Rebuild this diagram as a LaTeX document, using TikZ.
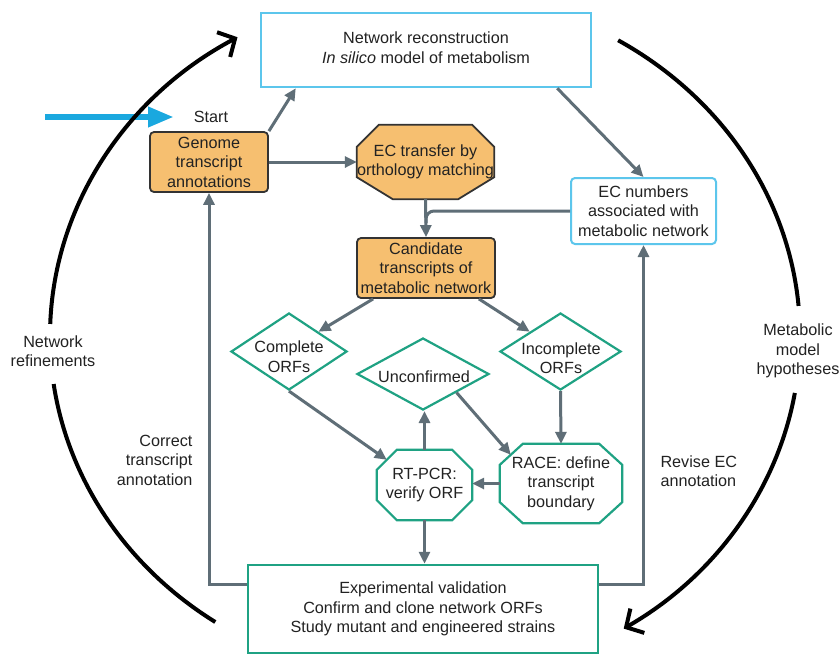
\documentclass[tikz,border=0pt]{standalone}
\usepackage{fontspec}
\setmainfont{Liberation Sans}
\usetikzlibrary{arrows.meta,calc,shapes.geometric,backgrounds}
\definecolor{cyanbox}{HTML}{5CC6EC}
\definecolor{startblue}{HTML}{1AA8DF}
\definecolor{orangefill}{HTML}{F6BF70}
\definecolor{darkborder}{HTML}{333333}
\definecolor{greenbox}{HTML}{1FA283}
\definecolor{conngray}{HTML}{5F6E77}
\definecolor{txt}{HTML}{222222}
% octagon drawn around a (rectangular, invisible) node
\newcommand\octaround[5]{%
  \path[#5] ($(#1.north west)+(#2,0)$) -- ($(#1.north east)+(-#2,0)$)
    -- ($(#1.north east)+(0,-#4)$) -- ($(#1.south east)+(0,#4)$)
    -- ($(#1.south east)+(-#3,0)$) -- ($(#1.south west)+(#3,0)$)
    -- ($(#1.south west)+(0,#4)$) -- ($(#1.north west)+(0,-#4)$) -- cycle;}
\tikzset{
  every node/.style={font=\fontsize{16.2}{19.5}\selectfont, text=txt, align=center},
  cyanrect/.style={draw=cyanbox, line width=2.5pt, fill=white, inner sep=0pt},
  orangebox/.style={draw=darkborder, line width=1.8pt, fill=orangefill, rounded corners=4pt, inner sep=0pt},
  greendiam/.style={shape=diamond, draw=greenbox, line width=2.2pt, fill=white, inner sep=0pt},
  octnode/.style={draw=none, inner sep=0pt},
  connector/.style={draw=conngray, line width=3pt, -{Triangle[length=12pt,width=11pt]}},
  plainconn/.style={draw=conngray, line width=3pt},
  bigarc/.style={draw=black, line width=4pt},
  bigarrow/.style={draw=black, line width=4pt, -{Straight Barb[length=13pt,width=28pt]}},
}
\begin{document}
\begin{tikzpicture}[x=1pt,y=1pt]
\useasboundingbox (0,0) rectangle (840,-654);

% ---------- nodes ----------
\node[cyanrect, minimum width=330pt, minimum height=74pt] (top) at (426,-50) {};
\node (toptext) at (426,-47.5) {Network reconstruction\\ \textit{In silico} model of metabolism};
\node (start) at (211,-117) {Start};
\node[orangebox, minimum width=118pt, minimum height=60pt] (genome) at (209,-162)
  {Genome\\transcript\\annotations};
\node[octnode, minimum width=137pt, minimum height=74pt] (ectr) at (425.5,-162)
  {EC transfer by\\orthology matching};
\node[cyanrect, rounded corners=4pt, line width=2pt, minimum width=145pt, minimum height=66pt] (ecnum) at (643.5,-211)
  {EC numbers\\associated with\\metabolic network};
\node[orangebox, minimum width=138pt, minimum height=60pt] (cand) at (426,-268)
  {Candidate\\transcripts of\\metabolic network};
\node[greendiam, minimum width=116pt, minimum height=77pt] (comp) at (289,-351.5) {};
\node (comptext) at (289,-356.5) {Complete\\ORFs};
\node[greendiam, minimum width=121pt, minimum height=77pt] (incomp) at (560.5,-351.5) {};
\node (incomptext) at (561,-358) {Incomplete\\ORFs};
\node[greendiam, minimum width=132pt, minimum height=72pt] (unconf) at (423,-374) {};
\node (unconftext) at (424,-377) {Unconfirmed};
\node[octnode, minimum width=95pt, minimum height=70pt] (rt) at (424.5,-485)
  {RT-PCR:\\verify ORF};
\node[octnode, minimum width=122pt, minimum height=79pt] (race) at (561,-483.5)
  {RACE: define\\transcript\\boundary};
\node[draw=greenbox, line width=2.5pt, fill=white, minimum width=350pt, minimum height=88pt, inner sep=0pt] (exp) at (423,-609)
  {Experimental validation\\Confirm and clone network ORFs\\Study mutant and engineered strains};

\node[anchor=east, align=right] (corr) at (196,-460) {Correct\\transcript\\annotation};
\node[anchor=west, align=left] (revise) at (657,-471) {Revise EC\\annotation};
\node (netref) at (53,-351) {Network\\refinements};
\node (metab) at (798,-351) {Metabolic\\model\\hypotheses};

% ---------- octagon outlines behind text ----------
\begin{scope}[on background layer]
  \fill[white] (0,0) rectangle (840,-654);
  \octaround{ectr}{22}{36}{22}{draw=darkborder, line width=1.8pt, fill=orangefill}
  \octaround{rt}{20}{20}{20}{draw=greenbox, line width=2.2pt, fill=white}
  \octaround{race}{23}{23}{21}{draw=greenbox, line width=2.2pt, fill=white}
\end{scope}

% ---------- start arrow ----------
\coordinate (startfrom) at (45,-117);
\coordinate (startto) at (174,-117);
\draw[startblue, line width=6.5pt, -{Triangle[length=26pt,width=19pt]}] (startfrom) -- (startto);

% ---------- connectors ----------
\draw[connector] (genome.north east) -- ($(top.south west)+(36,0)$);
\draw[connector] (genome.east) -- (ectr.west);
\draw[connector] ($(top.south east)+(-35,0)$) -- (ecnum.north);
\draw[plainconn, rounded corners=8pt] (ecnum.west) -| ($(cand.north)+(0,14)$);
\draw[connector] (ectr.south) -- (cand.north);
\draw[connector] ($(cand.south west)+(17,0)$) -- (comp.north east);
\draw[connector] ($(cand.south east)+(-17,0)$) -- (incomp.north west);
\draw[connector] (comp.south) -- ($(rt.north west)+(10,-10)$);
\draw[connector] (unconf.south east) -- ($(race.north west)+(11,-11)$);
\draw[connector] (incomp.south) -- (race.north);
\draw[connector] (rt.north) -- (rt.north |- unconf.south);
\draw[connector] (race.west) -- (race.west -| rt.east);
\draw[connector] (rt.south) -- (rt.south |- exp.north);
\draw[connector] ($(exp.north west)+(0,-21)$) -| (genome.south);
\draw[connector] ($(exp.north east)+(0,-21)$) -| (ecnum.south);

% ---------- big cycle arcs ----------
\coordinate (ellc) at (425,-336);
\draw[bigarc] ($(ellc)+(236:375 and 345)$) arc[start angle=236, end angle=188, x radius=375, y radius=345];
\draw[bigarrow] ($(ellc)+(178:375 and 345)$) arc[start angle=178, end angle=120, x radius=375, y radius=345];
\draw[bigarc] ($(ellc)+(59:375 and 345)$) arc[start angle=59, end angle=5, x radius=375, y radius=345];
\draw[bigarrow] ($(ellc)+(-9.5:375 and 345)$) arc[start angle=-9.5, end angle=-58, x radius=375, y radius=345];
\end{tikzpicture}
\end{document}
